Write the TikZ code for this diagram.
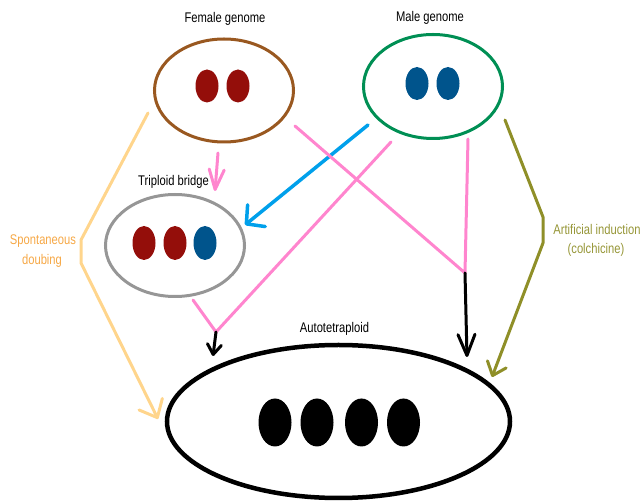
\documentclass[tikz,border=0pt]{standalone}
\usepackage{fontspec}
\setmainfont{Liberation Sans}[FakeStretch=0.8]
\usetikzlibrary{shapes.geometric,arrows.meta,calc}

\definecolor{fembrown}{RGB}{153,88,32}
\definecolor{malegreen}{RGB}{0,143,84}
\definecolor{chromred}{RGB}{148,14,10}
\definecolor{chromblue}{RGB}{0,84,140}
\definecolor{bridgegray}{RGB}{150,150,150}
\definecolor{linkpink}{RGB}{255,133,206}
\definecolor{linkblue}{RGB}{0,160,235}
\definecolor{spontline}{RGB}{255,213,140}
\definecolor{sponttext}{RGB}{246,168,70}
\definecolor{olive}{RGB}{143,143,40}
\definecolor{olivetext}{RGB}{150,150,55}

\tikzset{
  genome/.style={ellipse, draw, line width=3, inner sep=0},
  chrom/.style={ellipse, inner sep=0, minimum width=23, minimum height=33},
  bigchrom/.style={ellipse, fill=black, inner sep=0, minimum width=33, minimum height=48},
  lbl/.style={font=\fontsize{14}{16}\selectfont, inner sep=0, anchor=base},
  link/.style={line width=3, line cap=round, line join=round},
  barb/.style args={#1/#2}{-{Straight Barb[length=#1,width=#2,line cap=round,line join=round]}}
}

\begin{document}
\begin{tikzpicture}[x=1pt, y=-1pt]
\useasboundingbox (0,0) rectangle (641,502);

% genome compartments
\node[genome, draw=fembrown, minimum width=139, minimum height=103] (fem) at (224,90.5) {};
\node[genome, draw=malegreen, minimum width=139, minimum height=104] (male) at (433,86.5) {};
\node[genome, draw=bridgegray, minimum width=139, minimum height=102] (trip) at (175,245.5) {};
\node[genome, draw=black, line width=4.5, minimum width=343, minimum height=153] (auto) at (338.5,421.5) {};

% chromosome sets
\node[chrom, fill=chromred] (f1) at (207,86) {};
\node[chrom, fill=chromred] (f2) at (238,86) {};
\node[chrom, fill=chromblue] (m1) at (417,83.5) {};
\node[chrom, fill=chromblue] (m2) at (448,83.5) {};
\node[chrom, fill=chromred, minimum height=34] (t1) at (144,243) {};
\node[chrom, fill=chromred, minimum height=34] (t2) at (175,243) {};
\node[chrom, fill=chromblue, minimum height=34] (t3) at (205,243) {};
\node[bigchrom] (a1) at (275,422.5) {};
\node[bigchrom] (a2) at (317,422.5) {};
\node[bigchrom] (a3) at (361.5,422.5) {};
\node[bigchrom] (a4) at (403.5,422.5) {};

% labels
\node[lbl] (lfem) at (225,22.5) {Female genome};
\node[lbl] (lmale) at (430,22) {Male genome};
\node[lbl] (ltrip) at (173.5,186) {Triploid bridge};
\node[lbl] (lauto) at (334.5,332.5) {Autotetraploid};
\node[lbl, text=sponttext] (lsp1) at (43,245) {Spontaneous};
\node[lbl, text=sponttext] (lsp2) at (42,265) {doubing};
\node[lbl, text=olivetext] (lart1) at (597,235) {Artificial induction};
\node[lbl, text=olivetext] (lart2) at (596,254) {(colchicine)};

% connector end points
\coordinate (femA) at (218,153);
\coordinate (tripA) at (215,191);
\coordinate (maleA) at (368,125);
\coordinate (tripB) at (245,225);
\coordinate (femB) at (295,126);
\coordinate (maleB) at (468,139);
\coordinate (joinR) at (465,273);
\coordinate (autoR) at (467,357);
\coordinate (maleC) at (391,142);
\coordinate (tripC) at (193,300);
\coordinate (joinL) at (216,332);
\coordinate (autoL) at (213,356);
\coordinate (femC) at (148,113);
\coordinate (sp1) at (81,240);
\coordinate (sp2) at (81,263);
\coordinate (autoS) at (158,419);
\coordinate (maleD) at (505,120);
\coordinate (ai1) at (543,217);
\coordinate (ai2) at (543,243);
\coordinate (autoA) at (492,377);

% female -> triploid bridge
\draw[link, linkpink, barb=20/15] (femA) -- (tripA);
% male -> triploid bridge
\draw[link, line width=3.5, linkblue, barb=13/28] (maleA) -- (tripB);
% female + male -> autotetraploid (right branch)
\draw[link, linkpink] (femB) -- (joinR) -- (maleB);
\draw[link, black, barb=21/17] (joinR) -- (autoR);
% male + triploid bridge -> autotetraploid (left branch)
\draw[link, linkpink] (maleC) -- (joinL) -- (tripC);
\draw[link, black, barb=10/14] (joinL) -- (autoL);
% spontaneous doubling
\draw[link, spontline, barb=15/26] (femC) -- (sp1) -- (sp2) -- (autoS);
% artificial induction
\draw[link, olive, barb=12/20] (maleD) -- (ai1) -- (ai2) -- (autoA);
\end{tikzpicture}
\end{document}
